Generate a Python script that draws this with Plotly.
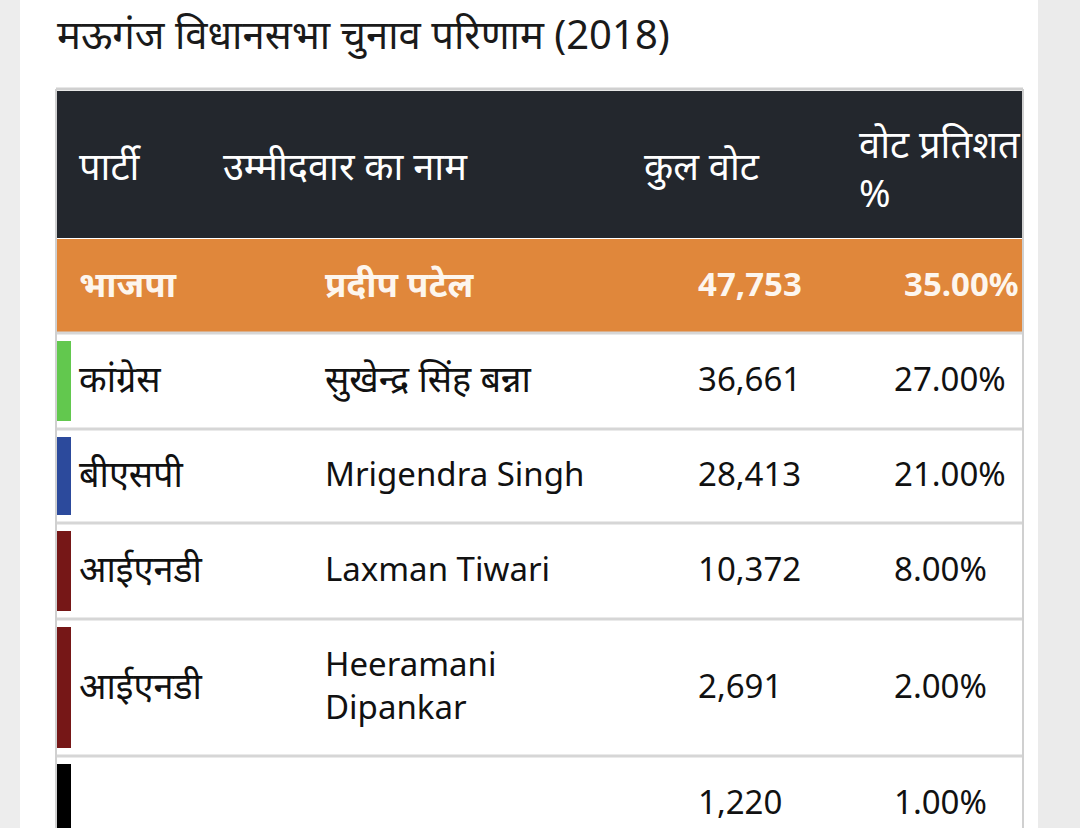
import plotly.graph_objects as go

# ---- data ----
title_text = "मऊगंज विधानसभा चुनाव परिणाम (2018)"
headers = ["पार्टी", "उम्मीदवार का नाम", "कुल वोट", "वोट प्रतिशत<br>%"]
parties = ["भाजपा", "कांग्रेस", "बीएसपी", "आईएनडी", "आईएनडी", ""]
candidates = ["प्रदीप पटेल", "सुखेन्द्र सिंह बन्ना", "Mrigendra Singh", "Laxman Tiwari",
              "Heeramani<br>Dipankar", ""]
votes = [47753, 36661, 28413, 10372, 2691, 1220]
vote_pct = [35.00, 27.00, 21.00, 8.00, 2.00, 1.00]
party_colors = ["#e0873b", "#62c84e", "#2c4a9c", "#761717", "#761717", "#000000"]

# ---- layout config ----
W, H = 1080, 828
FONT = "Noto Sans, Open Sans, Noto Sans Devanagari, sans-serif"
tbl_left, tbl_right = 57, 1022
header_top, header_bot = 91, 238
row_heights = [94, 95, 93, 95, 136, 94]
col_x_header = [77, 221, 642, 857]
col_x_data = [77, 323, 696, 892]


def is_deva(s):
    return any('\u0900' <= ch <= '\u097f' for ch in s)


fig = go.Figure()
shapes = []
annotations = []

# page background strips
shapes.append(dict(type="rect", x0=0, x1=20, y0=0, y1=H, fillcolor="#ededed", line_width=0, layer="below"))
shapes.append(dict(type="rect", x0=1038, x1=W, y0=0, y1=H, fillcolor="#ebebeb", line_width=0, layer="below"))

# title
annotations.append(dict(x=55, y=33, text=title_text, showarrow=False, xanchor="left", yanchor="middle",
                        font=dict(family=FONT, size=40, color="#1a1a1a")))

# table outer border
shapes.append(dict(type="line", x0=tbl_left - 1, x1=tbl_right + 1, y0=89, y1=89, line=dict(color="#d0d0d0", width=3)))
shapes.append(dict(type="line", x0=tbl_left - 1, x1=tbl_left - 1, y0=89, y1=H, line=dict(color="#d0d0d0", width=2)))
shapes.append(dict(type="line", x0=tbl_right + 1, x1=tbl_right + 1, y0=89, y1=H, line=dict(color="#d0d0d0", width=2)))

# header
shapes.append(dict(type="rect", x0=tbl_left, x1=tbl_right, y0=header_top, y1=header_bot,
                   fillcolor="#23272d", line_width=0))
for i, h in enumerate(headers):
    annotations.append(dict(x=col_x_header[i], y=(header_top + header_bot) / 2 + (0 if i < 3 else 3),
                            text=h, showarrow=False, xanchor="left", yanchor="middle", align="left",
                            font=dict(family=FONT, size=38, color="#ffffff")))

# rows
y = header_bot + 1
for r in range(len(votes)):
    y0 = y
    y1 = y + row_heights[r]
    yc = (y0 + y1) / 2
    winner = (r == 0)
    if winner:
        shapes.append(dict(type="rect", x0=tbl_left, x1=tbl_right, y0=y0, y1=y1 - 1,
                           fillcolor=party_colors[r], line_width=0))
        color = "#fdf6ee"
        xs = [77, 323, 696, 902]
    else:
        shapes.append(dict(type="rect", x0=tbl_left, x1=tbl_left + 14, y0=y0 + 7, y1=y1 - 8,
                           fillcolor=party_colors[r], line_width=0))
        color = "#111111"
        xs = col_x_data
    # separator
    shapes.append(dict(type="line", x0=tbl_left, x1=tbl_right, y0=y1, y1=y1,
                       line=dict(color="#d6d6d6", width=3)))
    texts = [parties[r], candidates[r], f"{votes[r]:,}", f"{vote_pct[r]:.2f}%"]
    for c, t in enumerate(texts):
        if not t:
            continue
        size = (35 if winner else 36) if is_deva(t) else 33
        if winner:
            t = f"<b>{t}</b>"
        annotations.append(dict(x=xs[c], y=yc - 3, text=t, showarrow=False, xanchor="left", yanchor="middle",
                                align="left", font=dict(family=FONT, size=size, color=color)))
    y = y1 + 1

fig.update_layout(
    width=W, height=H, margin=dict(l=0, r=0, t=0, b=0),
    paper_bgcolor="#ffffff", plot_bgcolor="#ffffff",
    xaxis=dict(range=[0, W], visible=False, fixedrange=True),
    yaxis=dict(range=[H, 0], visible=False, fixedrange=True),
    shapes=shapes, annotations=annotations, showlegend=False,
)
fig.write_html("out.html", config={"displayModeBar": False},
               post_script="document.body.style.margin='0';document.body.style.overflow='hidden';")
